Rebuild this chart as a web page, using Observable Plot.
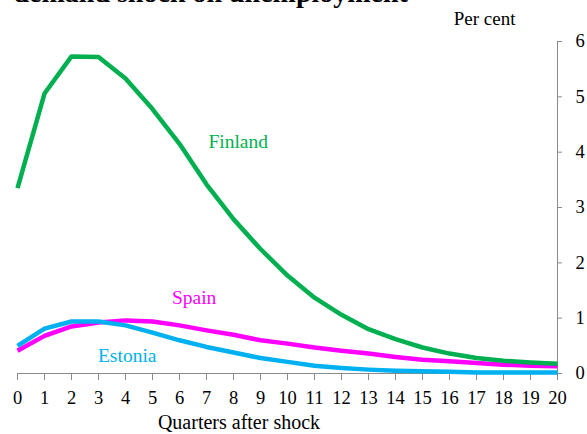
<!DOCTYPE html>
<html>
<head>
<meta charset="utf-8">
<script src="https://cdn.jsdelivr.net/npm/d3@7"></script>
<script src="https://cdn.jsdelivr.net/npm/@observablehq/plot@0.6"></script>
<style>
  html, body { margin: 0; padding: 0; background: #fff; }
  #chart svg { display: block; }
</style>
</head>
<body>
<div id="chart"></div>
<script>
// ---- data ----
const quarters = [0,1,2,3,4,5,6,7,8,9,10,11,12,13,14,15,16,17,18,19,20];
const finland = [3.35,5.06,5.73,5.72,5.33,4.78,4.15,3.42,2.79,2.25,1.77,1.37,1.06,0.80,0.62,0.47,0.36,0.28,0.23,0.20,0.175];
const spain   = [0.41,0.68,0.85,0.92,0.96,0.94,0.87,0.78,0.70,0.60,0.54,0.47,0.41,0.36,0.30,0.25,0.22,0.19,0.16,0.14,0.13];
const estonia = [0.50,0.81,0.94,0.94,0.87,0.74,0.60,0.48,0.38,0.28,0.21,0.14,0.10,0.07,0.05,0.04,0.03,0.02,0.02,0.02,0.02];
const yTicks = [0,1,2,3,4,5,6];
const titleText = "demand shock on unemployment";
const xLabel = "Quarters after shock";
const yLabel = "Per cent";

const series = [
  {name: "Spain",   values: spain,   color: "#FF00FF", lx: 5.72, ly: 1.26},
  {name: "Estonia", values: estonia, color: "#00B0F0", lx: 2.98, ly: 0.20},
  {name: "Finland", values: finland, color: "#00B050", lx: 7.07, ly: 4.07}
];

const serif = "'Liberation Serif', 'Times New Roman', Times, serif";
const axisGray = "#8a8a8a";

const marks = [];
// axis lines
marks.push(Plot.ruleY([0], {stroke: axisGray, strokeWidth: 1}));
marks.push(Plot.ruleX([20], {y1: 0, y2: 6, stroke: axisGray, strokeWidth: 1}));
marks.push(Plot.axisX({ticks: quarters, tickFormat: d => String(d), tickSize: 7, tickPadding: 10,
  stroke: axisGray, fill: "#000", fontSize: 18.5, label: null}));
marks.push(Plot.axisY({anchor: "right", ticks: yTicks, tickFormat: d => String(d), tickSize: 4, tickPadding: 14,
  stroke: axisGray, fill: "#000", fontSize: 18.5, label: null}));

// series lines
for (const s of series) {
  marks.push(Plot.line(quarters, {x: d => d, y: (d, i) => s.values[i],
    stroke: s.color, strokeWidth: 4.5, strokeLinejoin: "round", strokeLinecap: "butt"}));
}
// series labels
for (const s of series) {
  marks.push(Plot.text([s.name], {x: () => s.lx, y: () => s.ly, text: d => d,
    fill: s.color, fontSize: 19.5, textAnchor: "start", lineAnchor: "bottom"}));
}
// axis titles
marks.push(Plot.text([xLabel], {frameAnchor: "bottom", text: d => d, dx: -48.5, dy: 55,
  lineAnchor: "bottom", fontSize: 20, fill: "#000"}));
marks.push(Plot.text([yLabel], {frameAnchor: "top-right", text: d => d, dx: -42, dy: -17,
  textAnchor: "end", lineAnchor: "bottom", fontSize: 19, fill: "#000"}));
// clipped title
marks.push(Plot.text([titleText], {frameAnchor: "top-left", text: d => d, dx: -4, dy: -39.5,
  textAnchor: "start", lineAnchor: "bottom", fontSize: 28, fontWeight: "bold", fill: "#000"}));

const chart = Plot.plot({
  width: 587,
  height: 434,
  marginLeft: 17,
  marginRight: 30,
  marginTop: 41,
  marginBottom: 61,
  style: {fontFamily: serif, fontSize: "18.5px", background: "#fff", color: "#000"},
  x: {domain: [0, 20]},
  y: {domain: [0, 6]},
  marks
});
document.getElementById("chart").appendChild(chart);
</script>
</body>
</html>
